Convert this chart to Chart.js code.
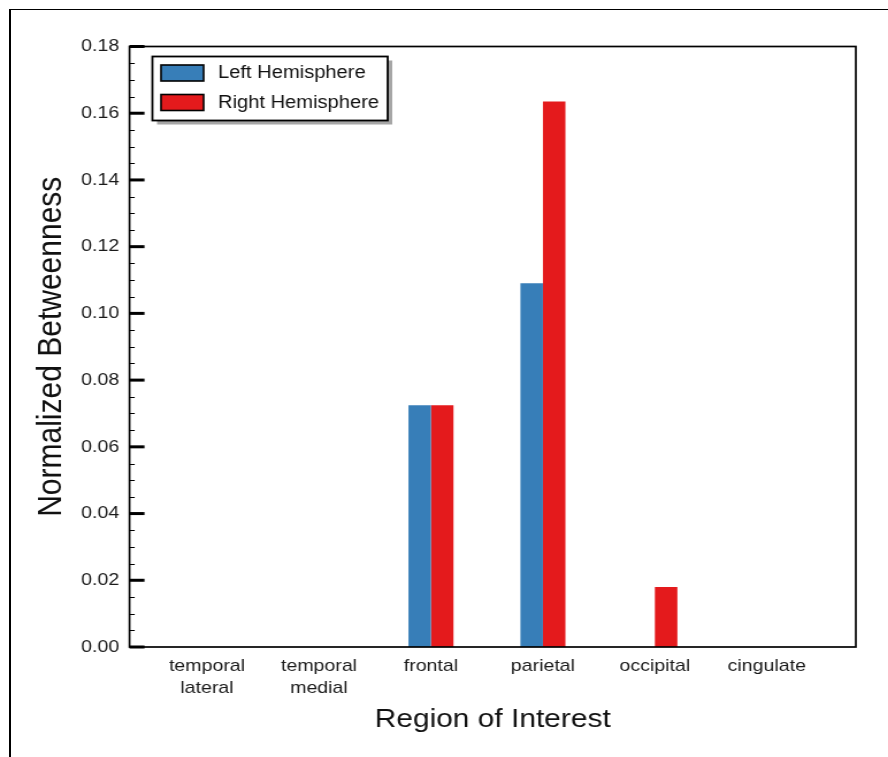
<!DOCTYPE html>
<html>
<head>
<meta charset="utf-8">
<script src="https://cdn.jsdelivr.net/npm/chart.js@4.4.0/dist/chart.umd.min.js"></script>
<style>
html, body { margin: 0; padding: 0; background: #fff; overflow: hidden; }
#frame { position: absolute; left: 9px; top: 9px; width: 900px; height: 800px;
         border-left: 2px solid #000; border-top: 1px solid #000; }
/* the figure is drawn narrow and stretched, like the original */
#wrap { position: absolute; left: 0; top: 0; width: 772px; height: 757px;
        transform: scaleX(1.1503); transform-origin: 0 0; }
</style>
</head>
<body>
<div id="frame"></div>
<div id="wrap"><canvas id="chart_canvas" width="772" height="757"></canvas></div>
<script>
// Data
var regions = [['temporal', 'lateral'], ['temporal', 'medial'], 'frontal', 'parietal', 'occipital', 'cingulate'];
var leftHemisphere = [0, 0, 0.0725, 0.109, 0, 0];
var rightHemisphere = [0, 0, 0.0725, 0.1635, 0.018, 0];
var yTicks = [0, 0.02, 0.04, 0.06, 0.08, 0.10, 0.12, 0.14, 0.16, 0.18];
var yMinorStep = 0.005;

var FONT = '"Liberation Sans", Arial, sans-serif';

// region index -> point on the numeric x axis
function toPoints(values) {
    return values.map(function(v, i) { return { x: i, y: v }; });
}

// Frame around the plot, inward ticks and the boxed legend
var framePlugin = {
    id: 'frame',
    afterDatasetsDraw: function(chart) {
        var ctx = chart.ctx;
        var a = chart.chartArea;
        var y = chart.scales.y;
        ctx.save();

        // minor ticks
        ctx.strokeStyle = '#000';
        ctx.lineWidth = 1;
        for (var v = yMinorStep; v < yTicks[yTicks.length - 1]; v += yMinorStep) {
            var py = Math.round(y.getPixelForValue(v)) + 0.5;
            ctx.beginPath();
            ctx.moveTo(a.left, py);
            ctx.lineTo(a.left + 4.5, py);
            ctx.stroke();
        }
        // major ticks
        ctx.lineWidth = 3;
        yTicks.forEach(function(t) {
            var py = y.getPixelForValue(t);
            ctx.beginPath();
            ctx.moveTo(a.left, py);
            ctx.lineTo(a.left + 13, py);
            ctx.stroke();
        });

        // plot box
        ctx.lineWidth = 1.7;
        ctx.strokeRect(a.left, a.top, a.right - a.left, a.bottom - a.top);

        // legend box with shadow
        var lx = 132.5, ly = 56.5, lw = 204.5, lh = 64;
        ctx.fillStyle = '#a6a6a6';
        ctx.fillRect(lx + 4, ly + 4, lw, lh);
        ctx.fillStyle = '#fff';
        ctx.fillRect(lx, ly, lw, lh);
        ctx.lineWidth = 1.8;
        ctx.strokeStyle = '#000';
        ctx.strokeRect(lx, ly, lw, lh);

        ctx.font = '17.5px ' + FONT;
        ctx.textBaseline = 'middle';
        chart.data.datasets.forEach(function(ds, i) {
            var sy = 65 + i * 29.5;
            ctx.fillStyle = ds.backgroundColor;
            ctx.fillRect(140, sy, 37, 16);
            ctx.lineWidth = 1.6;
            ctx.strokeRect(140, sy, 37, 16);
            ctx.fillStyle = '#111';
            ctx.fillText(ds.label, 189.5, sy + 8.5);
        });
        ctx.restore();
    }
};

var ctx = document.getElementById('chart_canvas').getContext('2d');
var chart = new Chart(ctx, {
    type: 'bar',
    data: {
        datasets: [
            { label: 'Left Hemisphere', data: toPoints(leftHemisphere), backgroundColor: '#377eb8', borderWidth: 0 },
            { label: 'Right Hemisphere', data: toPoints(rightHemisphere), backgroundColor: '#e41a1c', borderWidth: 0 }
        ]
    },
    options: {
        responsive: false,
        animation: false,
        layout: { padding: { top: 46.5, right: 28, left: 0, bottom: 0 } },
        datasets: { bar: { categoryPercentage: 0.402, barPercentage: 1.0 } },
        plugins: { legend: { display: false }, tooltip: { enabled: false } },
        scales: {
            x: {
                type: 'linear',
                min: -0.692,
                max: 5.795,
                offset: false,
                grid: { display: false, drawTicks: false, offset: false },
                border: { display: false },
                afterBuildTicks: function(scale) {
                    scale.ticks = regions.map(function(r, i) { return { value: i }; });
                },
                ticks: { color: '#1a1a1a', padding: 8, maxRotation: 0, autoSkip: false,
                         font: { family: FONT, size: 17, lineHeight: 1.3 },
                         callback: function(v) { return regions[v]; } },
                title: { display: true, text: 'Region of Interest', color: '#111',
                         font: { family: FONT, size: 26 }, padding: { top: 0, bottom: 22 } },
                afterFit: function(scale) { scale.height = 110; }
            },
            y: {
                min: 0,
                max: 0.18,
                grid: { display: false, drawTicks: false },
                border: { display: false },
                afterBuildTicks: function(scale) {
                    scale.ticks = yTicks.map(function(v) { return { value: v }; });
                },
                ticks: { color: '#1a1a1a', padding: 9,
                         font: { family: FONT, size: 17 },
                         callback: function(v) { return Number(v).toFixed(2); } },
                title: { display: true, text: 'Normalized Betweenness', color: '#111',
                         font: { family: FONT, size: 30 }, padding: { top: 27, bottom: 0 } },
                afterFit: function(scale) { scale.width = 112.6; }
            }
        }
    },
    plugins: [framePlugin]
});
</script>
</body>
</html>
